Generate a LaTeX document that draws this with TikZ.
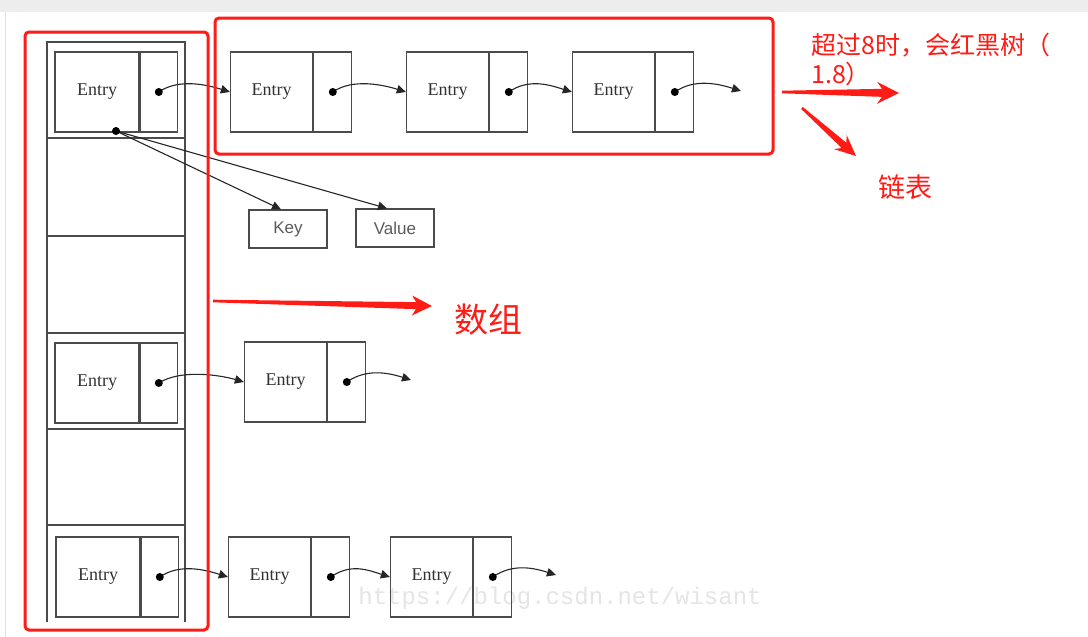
\documentclass[tikz,border=0pt]{standalone}
\usepackage{fontspec}
\setmainfont{Liberation Serif}
\newfontfamily\kvfont{Liberation Sans}
\newfontfamily\cjk{Noto Sans CJK SC}
\newfontfamily\wmfont{Liberation Mono}
\usetikzlibrary{arrows.meta,calc}
\definecolor{annot}{RGB}{255,28,22}
\definecolor{ink}{RGB}{75,75,75}
\definecolor{txt}{RGB}{50,50,50}
\tikzset{
  entl/.style={draw=ink, line width=1.3pt, minimum width=82pt, minimum height=80pt, inner sep=0pt,
    font=\fontsize{18}{18}\selectfont, text=txt},
  entr/.style={draw=ink, line width=1.3pt, minimum width=38pt, minimum height=80pt, inner sep=0pt, anchor=west},
  arrl/.style={entl, minimum width=84pt},
  arrr/.style={entr, minimum width=37pt},
  kvbox/.style={draw=ink, line width=1.2pt, minimum width=78pt, minimum height=38pt, inner sep=0pt,
    font=\kvfont\fontsize{17}{17}\selectfont, text=txt!80!white},
  ptr/.style={draw=black!85, line width=1.1pt, -{Triangle[length=9pt,width=8.5pt]}},
  ptrdot/.style={circle, fill=black, inner sep=0pt, minimum size=8pt},
  arrline/.style={draw=ink, line width=1.3pt},
  redbox/.style={draw=annot, line width=3pt, rounded corners=4pt},
  redtext/.style={text=annot, inner sep=0pt},
}
\newcommand\taperarrow[7]{%
  \fill[annot] ($(#1)!#7!90:(#2)$) -- ($(#2)!#4!(#1)!#6!270:(#1)$) -- ($(#2)!#3!(#1)!#5!270:(#1)$)
   -- (#2) -- ($(#2)!#3!(#1)!#5!90:(#1)$) -- ($(#2)!#4!(#1)!#6!90:(#1)$) -- ($(#1)!#7!270:(#2)$) -- cycle;}
\begin{document}
\begin{tikzpicture}[x=1pt,y=-1pt]
\fill[white] (0,0) rectangle (1088,637);
\useasboundingbox (0,0) rectangle (1088,637);
\fill[black!7] (0,0) rectangle (1088,12);
\draw[black!12, line width=0.8pt] (5,12) -- (5,637);

% watermark
\node[font=\wmfont\fontsize{24}{24}\selectfont, text=black!10] (wm) at (560,598) {https://blog.csdn.net/wisant};

% array
\draw[arrline] (47,622) -- (47,42) -- (185,42) -- (185,622);
\foreach \yy in {138,236,333,429,525} \draw[arrline] (47,\yy) -- (185,\yy);

\node[arrl] (a1l) at (97,92) {Entry};
\node[arrr] (a1r) at (a1l.east) {};
\node[arrl] (a4l) at (97,383) {Entry};
\node[arrr] (a4r) at (a4l.east) {};
\node[arrl] (a6l) at (98,577) {Entry};
\node[arrr] (a6r) at (a6l.east) {};

% top chain
\node[entl] (t1l) at (271.5,92) {Entry};
\node[entr] (t1r) at (t1l.east) {};
\node[entl] (t2l) at (447.5,92) {Entry};
\node[entr] (t2r) at (t2l.east) {};
\node[entl] (t3l) at (613.5,92) {Entry};
\node[entr] (t3r) at (t3l.east) {};
\coordinate (t3end) at (741,91);

% middle chain
\node[entl] (m1l) at (285.5,382) {Entry};
\node[entr] (m1r) at (m1l.east) {};
\coordinate (m1end) at (411,380);

% bottom chain
\node[entl] (b1l) at (269.5,577) {Entry};
\node[entr] (b1r) at (b1l.east) {};
\node[entl] (b2l) at (431.5,577) {Entry};
\node[entr] (b2r) at (b2l.east) {};
\coordinate (b2end) at (556,575);

% key / value
\node[kvbox] (key) at (288,229) {Key};
\node[kvbox] (value) at (395,228) {Value};
\coordinate (kvdot) at (116,131);

% pointers
\draw[ptr] (a1r.center) .. controls +(20,-14) and +(-22,-7) .. (t1l.west);
\draw[ptr] (t1r.center) .. controls +(20,-14) and +(-22,-7) .. (t2l.west);
\draw[ptr] (t2r.center) .. controls +(20,-14) and +(-22,-7) .. (t3l.west);
\draw[ptr] (t3r.center) .. controls +(20,-14) and +(-22,-7) .. (t3end);
\draw[ptr] (a4r.center) .. controls +(22,-14) and +(-24,-7) .. (m1l.west);
\draw[ptr] (m1r.center) .. controls +(20,-14) and +(-22,-7) .. (m1end);
\draw[ptr] (a6r.center) .. controls +(20,-14) and +(-22,-7) .. (b1l.west);
\draw[ptr] (b1r.center) .. controls +(20,-14) and +(-22,-7) .. (b2l.west);
\draw[ptr] (b2r.center) .. controls +(20,-14) and +(-22,-7) .. (b2end);
\draw[ptr] (kvdot) -- ([xshift=-7pt]key.north);
\draw[ptr] (kvdot) -- ([xshift=-8pt]value.north);

\foreach \n in {a1r,a4r,a6r,t1r,t2r,t3r,m1r,b1r,b2r} \node[ptrdot] at (\n.center) {};
\node[ptrdot] at (kvdot) {};

% red annotations
\draw[redbox] (25,32) rectangle (208,630);
\draw[redbox] (215,18) rectangle (773,154);

\coordinate (s1) at (213,301); \coordinate (e1) at (432,306);
\taperarrow{s1}{e1}{20pt}{16pt}{10pt}{3.5pt}{1.3pt}
\coordinate (s2) at (782,92); \coordinate (e2) at (899,93);
\taperarrow{s2}{e2}{22pt}{17pt}{11pt}{4pt}{1.3pt}
\coordinate (s3) at (802,108); \coordinate (e3) at (856,156);
\taperarrow{s3}{e3}{21pt}{16pt}{9.5pt}{3.5pt}{1.3pt}

\node[redtext, anchor=west, font=\cjk\fontsize{25}{25}\selectfont] (note1) at (811,45) {超过8时，会红黑树（};
\node[redtext, anchor=west, font=\cjk\fontsize{25}{25}\selectfont] (note2) at (811,74) {1.8）};
\node[redtext, font=\cjk\fontsize{27}{27}\selectfont] (lianbiao) at (905,187) {链表};
\node[redtext, font=\cjk\fontsize{34}{34}\selectfont] (shuzu) at (488,320) {数组};
\end{tikzpicture}
\end{document}
